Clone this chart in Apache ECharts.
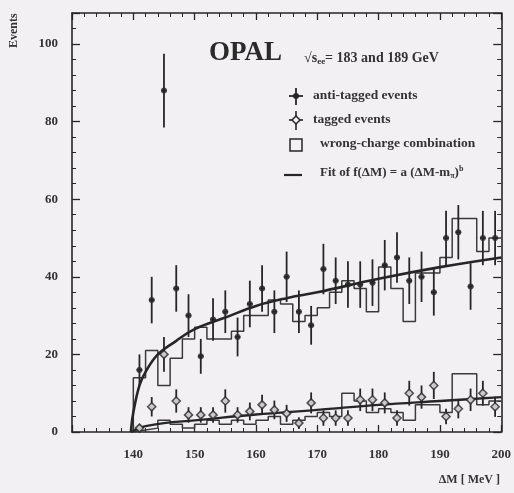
<!DOCTYPE html>
<html><head><meta charset="utf-8">
<script src="https://cdn.jsdelivr.net/npm/echarts@6/dist/echarts.min.js"></script>
<style>html,body{margin:0;padding:0;background:#f3f0f4;}#c{width:514px;height:493px;}</style>
</head><body><div id="c"></div>
<script>
// bin centres (MeV), 2 MeV bins from 140 to 200
const binCenters = [141,143,145,147,149,151,153,155,157,159,161,163,165,167,169,171,173,175,177,179,181,183,185,187,189,191,193,195,197,199];
const binWidth = 2;
// anti-tagged events
const antiTagged = [16,34,88,37,30,19.5,29,31,24.5,33,37,31,40,31,27.5,42,39,38,38,38.5,43,45,39,40,36,50,51.5,37.5,50,50];
const antiTaggedErr = [4,6,9.5,6,5.5,4.5,5.5,5.5,5,6,6,5.5,6.5,5.5,5,6.5,6,6,6,6,6.5,6.5,6,6.5,6,7,7,6,7,7];
// wrong-charge combination for anti-tagged
const antiWrong = [14,21,12,19,24,27,24,24,26,30,30,34,33,28.5,30,32,36,39,37,31,42.5,37,28.5,41,41,45,55,55,46.5,50];
// tagged events
const tagged = [1,6.5,20,8,4.4,4.4,4.4,8,4.4,5.3,7,5.7,4.8,2.3,7.5,3.6,3.6,3.6,8.3,8.3,7.5,3.6,10,9,12,4,6,8.3,10,6.5];
const taggedErr = [1,2.5,4.5,3,2,2,2,3,2,2.3,2.6,2.4,2.2,1.5,2.7,2,2,2,2.9,2.9,2.7,2,3.2,3,3.5,2,2.5,2.9,3.2,2.6];
// wrong-charge combination for tagged
const taggedWrong = [0.5,1,3,2,1,2,3,2,3,2,3,4,2,3,4,5,4,10,8,5,6,5,3,7,7,5,15,15,7,8];
// fit curves
const fitAntiX = [139.6,140,141,142,144,147,150,155,160,165,170,180,190,200];
const fitAntiY = [0,5,12,15.5,20,23.5,26.5,29.5,32.5,34.5,36,39.5,42.5,45];
const fitTagX = [139.6,141,142,145,150,160,170,180,190,200];
const fitTagY = [0,1,1.5,2.3,3,4.5,5.7,7,8,9];
const xTicks = [140,150,160,170,180,190,200];
const yTicks = [0,20,40,60,80,100];

const ink = '#262626';
const bg = '#f3f0f4';
const font = '"Liberation Serif", "DejaVu Serif", serif';

function pts(xs, ys){ return xs.map((x,i)=>[x, ys[i]]); }
function withErr(ys, es){ return binCenters.map((x,i)=>[x, ys[i], es[i]]); }
function histEdges(ys){
  const out = [[binCenters[0]-binWidth/2, 0]];
  ys.forEach((v,i)=>{ out.push([binCenters[i]-binWidth/2, v]); out.push([binCenters[i]+binWidth/2, v]); });
  return out;
}
function errRender(halfW){
  return function(params, api){
    const x = api.value(0), y = api.value(1), e = api.value(2);
    const t = api.coord([x, y+e]), b = api.coord([x, Math.max(0, y-e)]);
    const l = api.coord([x-halfW, y]), r = api.coord([x+halfW, y]);
    return {type:'group', children:[
      {type:'line', shape:{x1:t[0],y1:t[1],x2:b[0],y2:b[1]}, style:{stroke:ink, lineWidth:1.8}},
      {type:'line', shape:{x1:l[0],y1:l[1],x2:r[0],y2:r[1]}, style:{stroke:ink, lineWidth:1.8}}
    ]};
  };
}

const chart = echarts.init(document.getElementById('c'));
function axisLine(){ return {show:true, onZero:false, lineStyle:{color:ink, width:1.6}}; }
function tick(len){ return {inside:true, length:len, lineStyle:{color:ink, width:1.3}}; }
function minor(){ return {show:true, splitNumber:5, length:4, lineStyle:{color:ink, width:1}}; }
chart.setOption({
  backgroundColor:bg,
  animation:false,
  grid:{left:72, right:12, top:13, bottom:61},
  xAxis:[
    {type:'value', min:130, max:200, interval:10, position:'bottom',
      axisLine:axisLine(), axisTick:tick(7), minorTick:minor(), splitLine:{show:false},
      axisLabel:{margin:16, fontFamily:font, fontWeight:'bold', fontSize:13, color:'#333',
        formatter:v=> xTicks.includes(v) ? String(v) : ''}},
    {type:'value', min:130, max:200, interval:10, position:'top',
      axisLine:axisLine(), axisTick:tick(7), minorTick:minor(), splitLine:{show:false},
      axisLabel:{show:false}}
  ],
  yAxis:[
    {type:'value', min:0, max:108, interval:20, position:'left',
      axisLine:axisLine(), axisTick:tick(8), minorTick:minor(), splitLine:{show:false},
      axisLabel:{margin:14, fontFamily:font, fontWeight:'bold', fontSize:13, color:'#333',
        formatter:v=> yTicks.includes(v) ? String(v) : ''}},
    {type:'value', min:0, max:108, interval:20, position:'right',
      axisLine:axisLine(), axisTick:tick(8), minorTick:minor(), splitLine:{show:false},
      axisLabel:{show:false}}
  ],
  series:[
    {name:'wrong-charge (anti-tagged)', type:'line', data:histEdges(antiWrong), symbol:'none',
      lineStyle:{color:'#3a3a3a', width:1.5}, clip:true, z:2},
    {name:'wrong-charge (tagged)', type:'line', data:histEdges(taggedWrong), symbol:'none',
      lineStyle:{color:'#3a3a3a', width:1.5}, clip:true, z:2},
    {name:'fit anti-tagged', type:'line', data:pts(fitAntiX, fitAntiY), smooth:0.4, symbol:'none',
      lineStyle:{color:ink, width:2.6}, z:3},
    {name:'fit tagged', type:'line', data:pts(fitTagX, fitTagY), smooth:0.4, symbol:'none',
      lineStyle:{color:ink, width:2.4}, z:3},
    {name:'anti-tagged err', type:'custom', data:withErr(antiTagged, antiTaggedErr),
      renderItem:errRender(0.45), encode:{x:0, y:1}, clip:true, z:4},
    {name:'anti-tagged events', type:'scatter', data:pts(binCenters, antiTagged), symbol:'circle', symbolSize:6,
      itemStyle:{color:ink}, z:5},
    {name:'tagged err', type:'custom', data:withErr(tagged, taggedErr),
      renderItem:errRender(0.45), encode:{x:0, y:1}, clip:true, z:4},
    {name:'tagged events', type:'scatter', data:pts(binCenters, tagged), symbol:'diamond', symbolSize:8,
      itemStyle:{color:bg, borderColor:ink, borderWidth:1.6}, z:5}
  ],
  graphic:[
    {type:'text', x:8, y:48, rotation:Math.PI/2, style:{text:'Events', font:'bold 12px '+font, fill:'#333'}},
    {type:'text', left:209, top:40, style:{text:'OPAL', font:'bold 27px '+font, fill:'#2a2a2a'}},
    {type:'text', left:304, top:51, style:{
      text:'{a|√s}{b|ee}{a|= 183 and 189 GeV}',
      rich:{a:{font:'bold 14px '+font, fill:'#333'}, b:{font:'bold 9px '+font, fill:'#333', padding:[7,0,0,0]}}}},
    // legend: anti-tagged
    {type:'line', shape:{x1:289,y1:96,x2:303,y2:96}, style:{stroke:ink, lineWidth:1.8}},
    {type:'line', shape:{x1:296,y1:88,x2:296,y2:105}, style:{stroke:ink, lineWidth:1.8}},
    {type:'circle', shape:{cx:296,cy:96,r:3}, style:{fill:ink}},
    {type:'text', left:313, top:89, style:{text:'anti-tagged events', font:'bold 13.5px '+font, fill:'#333'}},
    // legend: tagged
    {type:'line', shape:{x1:289,y1:120,x2:303,y2:120}, style:{stroke:ink, lineWidth:1.6}},
    {type:'line', shape:{x1:296,y1:111,x2:296,y2:130}, style:{stroke:ink, lineWidth:1.6}},
    {type:'polygon', shape:{points:[[296,116],[300,120],[296,124],[292,120]]}, style:{fill:bg, stroke:ink, lineWidth:1.5}},
    {type:'text', left:313, top:113, style:{text:'tagged events', font:'bold 13.5px '+font, fill:'#333'}},
    // legend: wrong-charge
    {type:'rect', shape:{x:290,y:139,width:12,height:12}, style:{fill:'none', stroke:ink, lineWidth:1.5}},
    {type:'text', left:320, top:137, style:{text:'wrong-charge combination', font:'bold 13.5px '+font, fill:'#333'}},
    // legend: fit
    {type:'line', shape:{x1:284,y1:175,x2:302,y2:175}, style:{stroke:ink, lineWidth:2.2}},
    {type:'text', left:320, top:165, style:{
      text:'{a|Fit of f(ΔM) = a (ΔM-m}{s|π}{a|)}{p|b}',
      rich:{a:{font:'bold 13px '+font, fill:'#333'}, s:{font:'bold 8px '+font, fill:'#333', padding:[6,0,0,0]}, p:{font:'bold 8px '+font, fill:'#333', padding:[0,0,8,0]}}}},
    {type:'text', right:14, top:474, style:{text:'ΔM [ MeV ]', font:'bold 12px '+font, fill:'#333'}}
  ]
});
</script></body></html>
